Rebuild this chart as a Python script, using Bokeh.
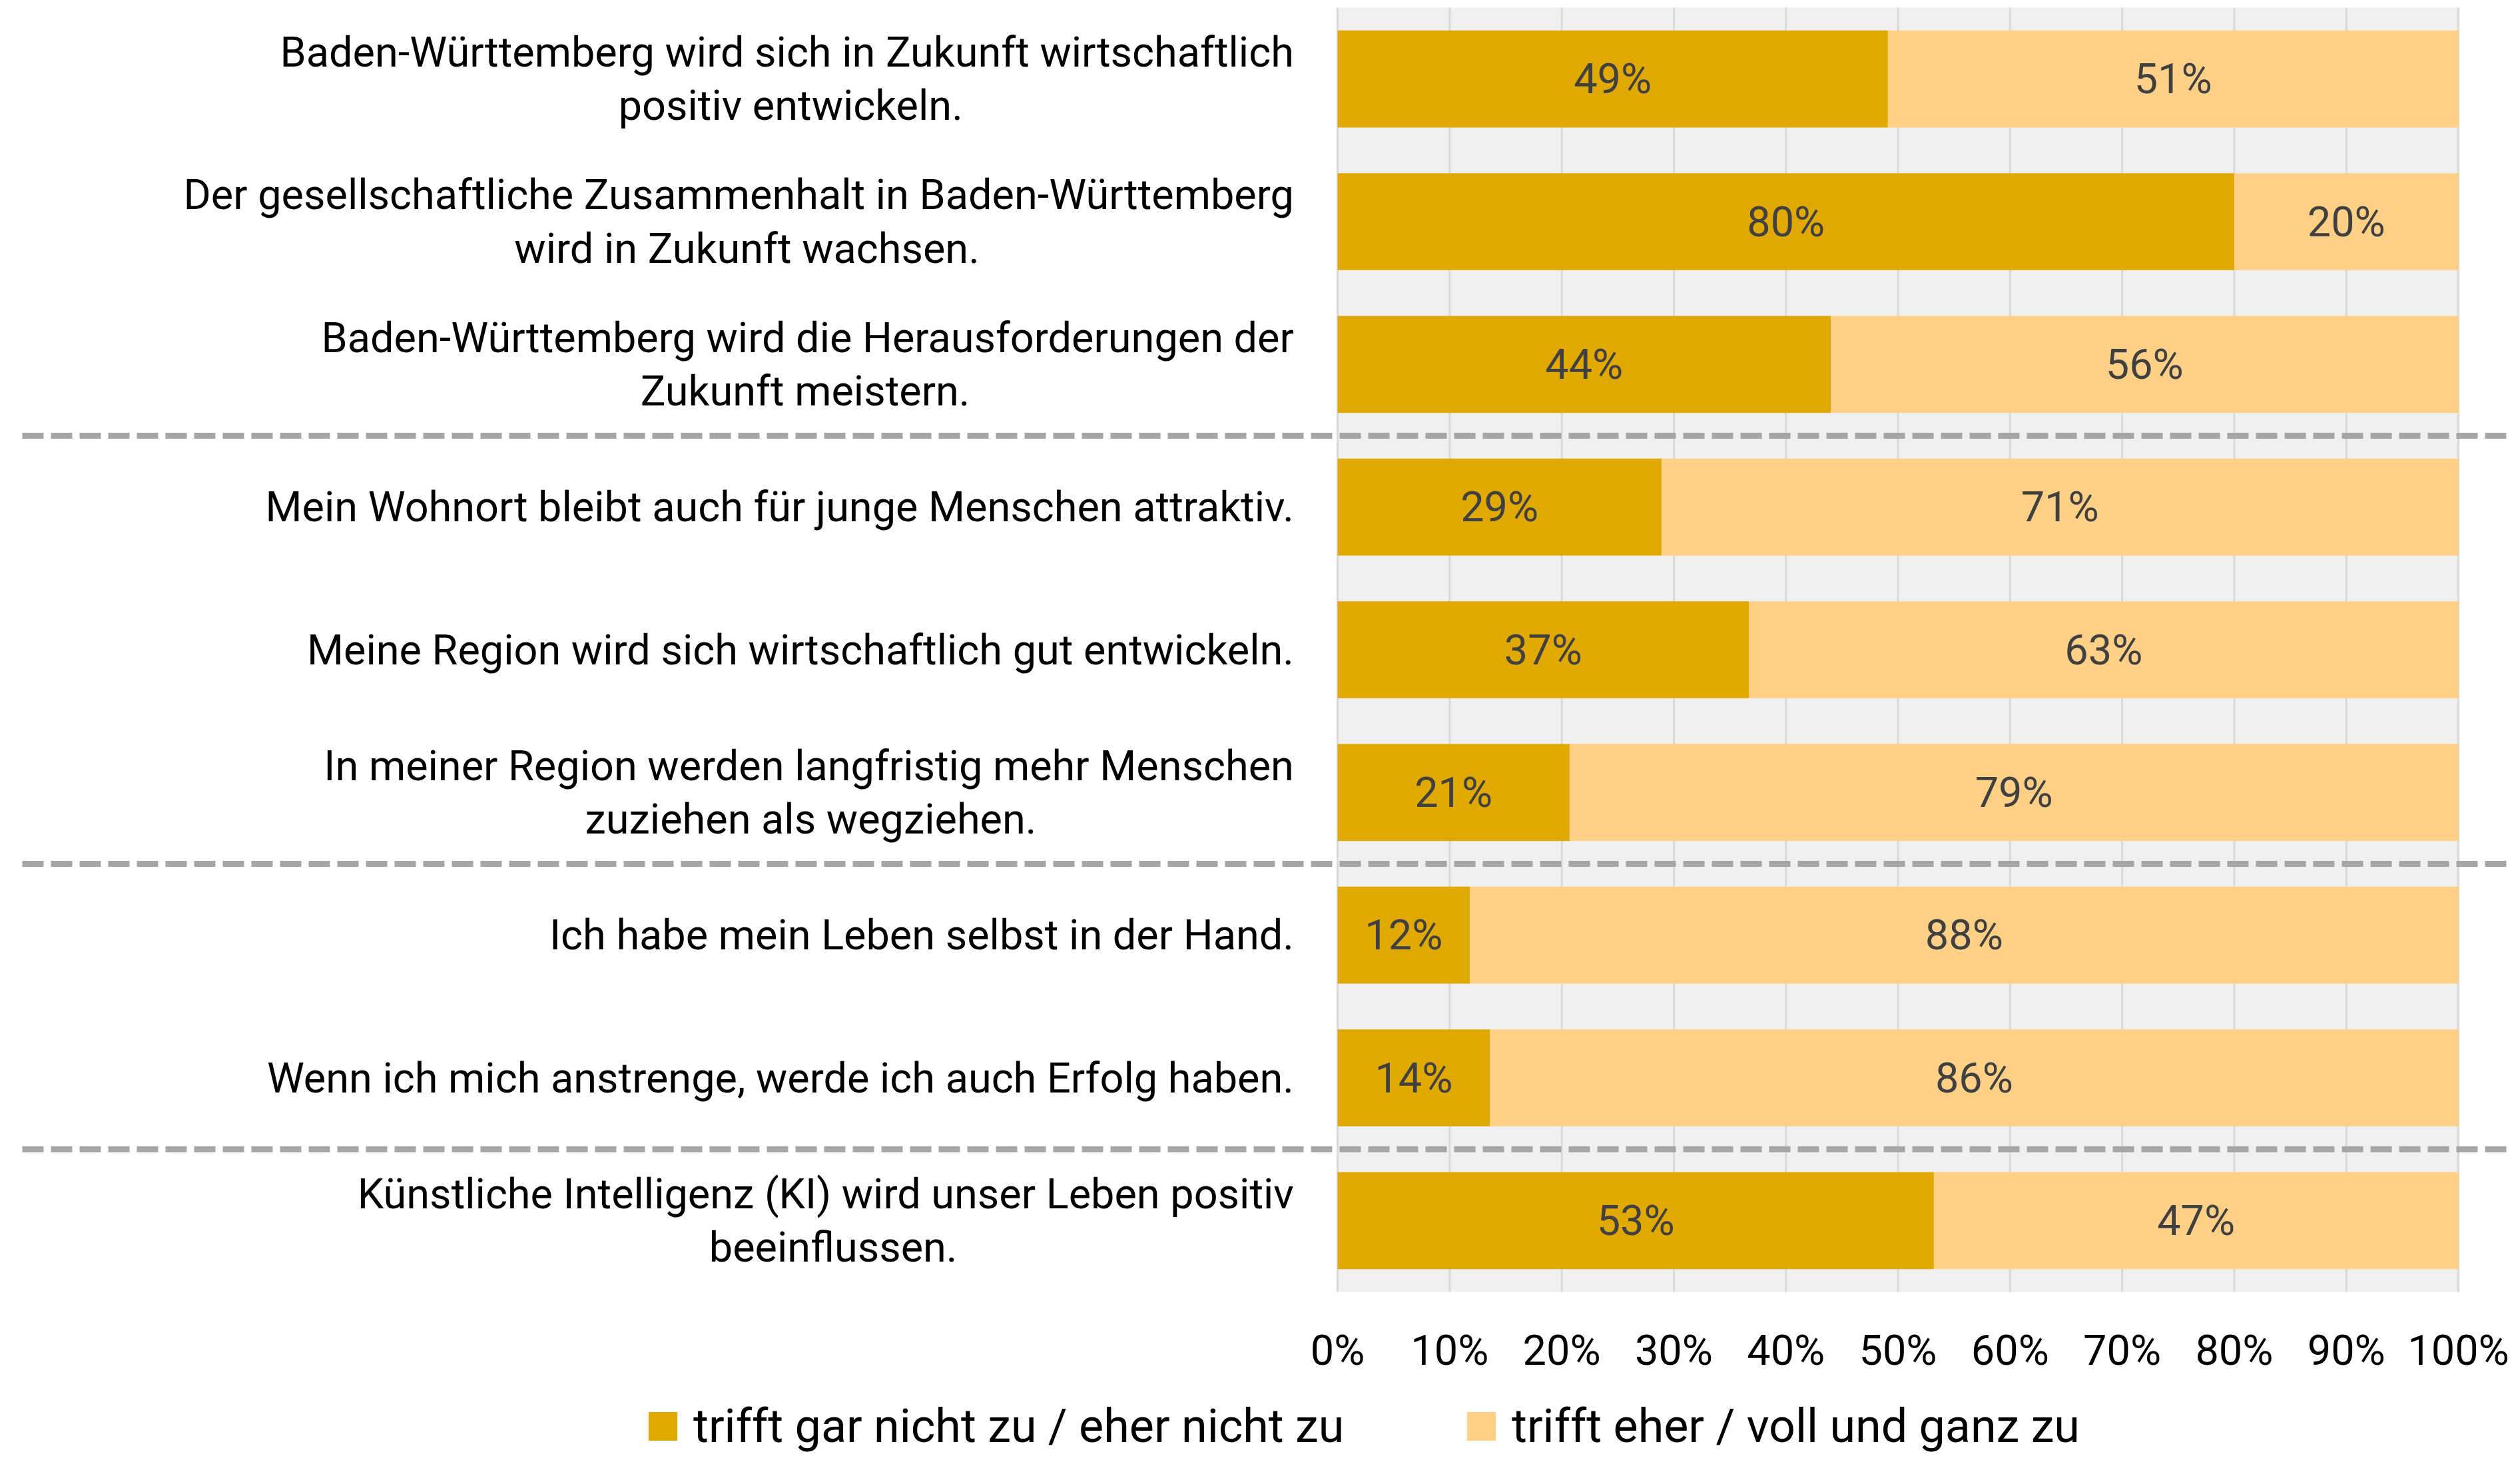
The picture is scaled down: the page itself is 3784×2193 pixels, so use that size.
from bokeh.plotting import figure
from bokeh.models import ColumnDataSource, Range1d, FixedTicker, Legend, LegendItem
from bokeh.core.properties import value
from bokeh.embed import file_html
from bokeh.resources import INLINE

# ---------------- data ----------------
statements = [
    "Baden-Württemberg wird sich in Zukunft wirtschaftlich\npositiv entwickeln.",
    "Der gesellschaftliche Zusammenhalt in Baden-Württemberg\nwird in Zukunft wachsen.",
    "Baden-Württemberg wird die Herausforderungen der\nZukunft meistern.",
    "Mein Wohnort bleibt auch für junge Menschen attraktiv.",
    "Meine Region wird sich wirtschaftlich gut entwickeln.",
    "In meiner Region werden langfristig mehr Menschen\nzuziehen als wegziehen.",
    "Ich habe mein Leben selbst in der Hand.",
    "Wenn ich mich anstrenge, werde ich auch Erfolg haben.",
    "Künstliche Intelligenz (KI) wird unser Leben positiv\nbeeinflussen.",
]
disagree = [49.1, 80.0, 44.0, 28.9, 36.7, 20.7, 11.8, 13.6, 53.2]
agree = [50.9, 20.0, 56.0, 71.1, 63.3, 79.3, 88.2, 86.4, 46.8]
disagree_labels = ["49%", "80%", "44%", "29%", "37%", "21%", "12%", "14%", "53%"]
agree_labels = ["51%", "20%", "56%", "71%", "63%", "79%", "88%", "86%", "47%"]
group_sizes = [3, 3, 2, 1]
series_names = ["trifft gar nicht zu / eher nicht zu", "trifft eher / voll und ganz zu"]
x_ticks = [0, 10, 20, 30, 40, 50, 60, 70, 80, 90, 100]
tick_labels = ["0%", "10%", "20%", "30%", "40%", "50%", "60%", "70%", "80%", "90%", "100%"]

# ---------------- layout / style ----------------
W, H = 3768, 2185
X0_PX = 2008.0          # pixel position of 0 %
PX_PER_PCT = 16.83
TOP_PX = 11.0           # top of plot area
BOTTOM_PX = 1940.0      # bottom of plot area
FONT = "Roboto"
FS = "63px"
LEGEND_FS = "70px"
DARK = "#E1A900"
LIGHT = "#FFD086"
LABEL_RIGHT = -3.9
LINE_OFF = 0.187
# centre (in % units) of the second line of two-line labels
line2_center = {0: -48.8, 1: -52.7, 2: -47.5, 5: -47.0, 8: -45.0}

n = len(statements)
row_px = (BOTTOM_PX - TOP_PX) / n
x_start = -X0_PX / PX_PER_PCT
x_end = x_start + W / PX_PER_PCT
y_top = n + TOP_PX / row_px
y_bot = -(H - BOTTOM_PX) / row_px

p = figure(width=W, height=H, output_backend="svg", toolbar_location=None,
           x_range=Range1d(x_start, x_end), y_range=Range1d(y_bot, y_top),
           y_axis_location=None,
           min_border_left=0, min_border_right=0, min_border_top=0,
           min_border_bottom=0)
p.xgrid.visible = False
p.ygrid.visible = False
p.outline_line_color = None
p.background_fill_color = "white"
p.border_fill_color = "white"

ys = [n - 1 - i + 0.5 for i in range(n)]

# plot background and grid
p.quad(left=[x_ticks[0]], right=[x_ticks[-1]], bottom=[0], top=[n],
       fill_color="#F0F0F0", line_color=None)
p.segment(x0=x_ticks, y0=[0] * len(x_ticks), x1=x_ticks, y1=[n] * len(x_ticks),
          line_color="#D9D9D9", line_width=3)

src = ColumnDataSource(dict(
    y=ys,
    d=disagree,
    a_left=disagree,
    a_right=[d + a for d, a in zip(disagree, agree)],
    zero=[0] * n,
    d_mid=[d / 2 for d in disagree],
    a_mid=[d + a / 2 for d, a in zip(disagree, agree)],
    d_lab=disagree_labels,
    a_lab=agree_labels,
))
BAR_H = 0.68
r1 = p.hbar(y="y", left="zero", right="d", height=BAR_H, source=src,
            fill_color=DARK, line_color=None)
r2 = p.hbar(y="y", left="a_left", right="a_right", height=BAR_H, source=src,
            fill_color=LIGHT, line_color=None)

p.text(x="d_mid", y="y", text="d_lab", source=src, text_align="center",
       text_baseline="middle", text_font=value(FONT), text_font_size=value(FS),
       text_color="#404040")
p.text(x="a_mid", y="y", text="a_lab", source=src, text_align="center",
       text_baseline="middle", text_font=value(FONT), text_font_size=value(FS),
       text_color="#404040")

# category labels
r_x, r_y, r_t = [], [], []
c_x, c_y, c_t = [], [], []
for i, s in enumerate(statements):
    lines = s.split("\n")
    if len(lines) == 1:
        r_x.append(LABEL_RIGHT); r_y.append(ys[i]); r_t.append(lines[0])
    else:
        r_x.append(LABEL_RIGHT); r_y.append(ys[i] + LINE_OFF); r_t.append(lines[0])
        c_x.append(line2_center[i]); c_y.append(ys[i] - LINE_OFF); c_t.append(lines[1])
p.text(x=r_x, y=r_y, text=r_t, text_align="right", text_baseline="middle",
       text_font=value(FONT), text_font_size=value(FS), text_color="black")
p.text(x=c_x, y=c_y, text=c_t, text_align="center", text_baseline="middle",
       text_font=value(FONT), text_font_size=value(FS), text_color="black")

# dashed group separators
bounds = []
acc = 0
for g in group_sizes[:-1]:
    acc += g
    bounds.append(n - acc)
p.segment(x0=[-117.35] * len(bounds), x1=[x_end] * len(bounds), y0=bounds, y1=bounds,
          line_color="#A6A6A6", line_width=9, line_dash="32 11")

# x axis, drawn at the bottom of the plot area
ax = p.xaxis[0]
ax.fixed_location = 0
ax.ticker = FixedTicker(ticks=x_ticks)
ax.major_label_overrides = {t: l for t, l in zip(x_ticks, tick_labels)}
ax.axis_line_color = None
ax.major_tick_line_color = None
ax.minor_tick_line_color = None
ax.major_tick_out = 0
ax.major_tick_in = 0
ax.major_label_standoff = 51
ax.major_label_text_font = FONT
ax.major_label_text_font_size = FS
ax.major_label_text_color = "black"

# legend
legend = Legend(items=[LegendItem(label=series_names[0], renderers=[r1]),
                       LegendItem(label=series_names[1], renderers=[r2])],
                location=(968, 2), orientation="horizontal",
                glyph_width=54, glyph_height=54, label_standoff=19,
                spacing=0, label_width=1156, label_height=82,
                padding=0, margin=0, border_line_color=None,
                background_fill_alpha=0,
                label_text_font=FONT, label_text_font_size=LEGEND_FS,
                label_text_color="black")
p.add_layout(legend)

open("out.html", "w").write(file_html(p, INLINE))
